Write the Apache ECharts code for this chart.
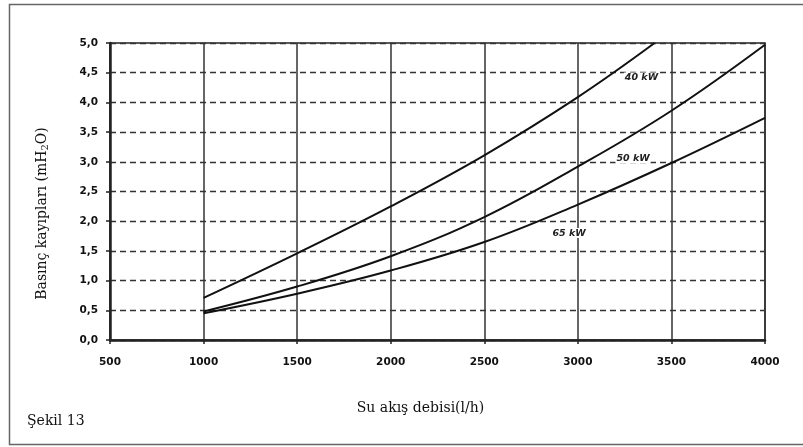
<!DOCTYPE html>
<html>
<head>
<meta charset="utf-8">
<script src="https://cdn.jsdelivr.net/npm/echarts@6/dist/echarts.min.js"></script>
<style>html,body{margin:0;padding:0;background:#fff}#c{width:803px;height:447px}</style>
</head>
<body>
<div id="c"></div>
<script>
// Data
const flow40 = [1000, 1500, 2000, 2500, 3000, 3410];
const loss40 = [0.71, 1.46, 2.25, 3.11, 4.09, 5.0];
const flow50 = [1000, 1500, 2000, 2500, 3000, 3500, 4000];
const loss50 = [0.48, 0.90, 1.41, 2.07, 2.92, 3.86, 4.97];
const flow65 = [1000, 1500, 2000, 2500, 3000, 3500, 4000];
const loss65 = [0.45, 0.78, 1.17, 1.65, 2.28, 2.98, 3.74];
const seriesNames = ['40 kW', '50 kW', '65 kW'];
const labelAt = [[3340, 4.42], [3295, 3.06], [2953, 1.80]];

const pairs = (xs, ys) => xs.map((x, i) => [x, ys[i]]);
const allData = [pairs(flow40, loss40), pairs(flow50, loss50), pairs(flow65, loss65)];

const chart = echarts.init(document.getElementById('c'), null, {renderer: 'canvas'});
const tickFont = {fontFamily: 'DejaVu Sans, sans-serif', fontWeight: 'bold', fontSize: 10.5, color: '#111'};
const serif = 'DejaVu Serif, serif';

chart.setOption({
  animation: false,
  backgroundColor: '#fff',
  grid: {left: 110, right: 38, top: 43, bottom: 107, show: true, borderColor: '#222', borderWidth: 1.5, backgroundColor: 'transparent'},
  xAxis: {
    type: 'value', min: 500, max: 4000, interval: 500,
    name: 'Su akış debisi(l/h)', nameLocation: 'middle', nameGap: 61,
    nameTextStyle: {fontFamily: serif, fontSize: 14, color: '#111', padding: [0, 34, 0, 0]},
    axisLine: {show: true, lineStyle: {color: '#222', width: 2.5}},
    axisTick: {show: true, length: 4, lineStyle: {color: '#222', width: 1.5}},
    axisLabel: Object.assign({margin: 17, formatter: v => String(v)}, tickFont),
    splitLine: {show: true, lineStyle: {color: '#333', width: 1.5, type: 'solid'}}
  },
  yAxis: {
    type: 'value', min: 0, max: 5, interval: 0.5,
    name: '{a|Basınç kayıpları (mH}{s|2}{a|O)}', nameLocation: 'middle', nameGap: 60, nameRotate: 90,
    nameTextStyle: {
      padding: [0, 44, 0, 0],
      rich: {
        a: {fontFamily: serif, fontSize: 14, color: '#111'},
        s: {fontFamily: serif, fontSize: 10, color: '#111', padding: [6, 0, 0, 0]}
      }
    },
    axisLine: {show: true, lineStyle: {color: '#222', width: 2.5}},
    axisTick: {show: true, length: 4, lineStyle: {color: '#222', width: 1.5}},
    axisLabel: Object.assign({margin: 12, formatter: v => v.toFixed(1).replace('.', ',')}, tickFont),
    splitLine: {show: true, lineStyle: {color: '#333', width: 1.3, type: [6, 4]}}
  },
  series: allData.map((d, i) => ({
    name: seriesNames[i],
    type: 'line',
    data: d,
    smooth: 0.4,
    showSymbol: false,
    symbol: 'none',
    lineStyle: {color: '#111', width: 2},
    markPoint: {
      symbol: 'circle', symbolSize: 0,
      data: [{coord: labelAt[i], value: seriesNames[i]}],
      label: {show: true, formatter: seriesNames[i], fontFamily: 'DejaVu Sans, sans-serif', fontSize: 9.5, fontWeight: 'bold', fontStyle: 'italic', color: '#222', backgroundColor: '#fff', padding: [0, 1]}
    }
  })),
  graphic: [
    {type: 'rect', left: 7, top: 2, shape: {x: 0, y: 0, width: 810, height: 440}, style: {fill: 'none', stroke: '#666', lineWidth: 1.5}, silent: true},
    {type: 'text', left: 27, top: 414, style: {text: 'Şekil 13', fontFamily: serif, fontSize: 14, fill: '#111'}}
  ]
});
</script>
</body>
</html>
